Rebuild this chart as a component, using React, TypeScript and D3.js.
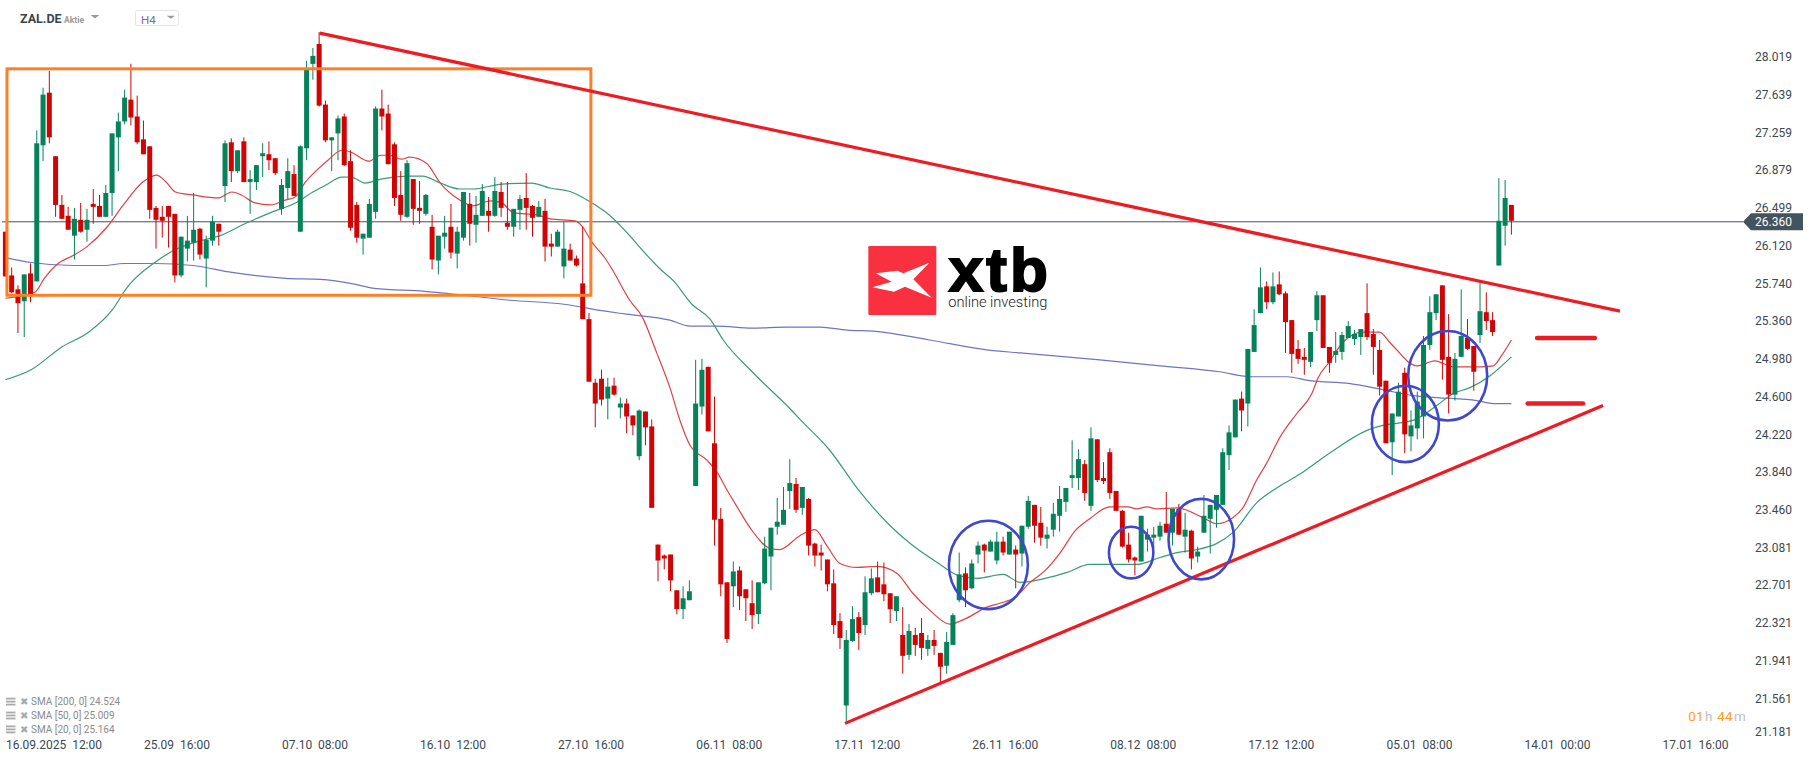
import React, { useEffect, useRef } from 'react';
import * as d3 from 'd3';

// H4 candles
const opens = [
  26.26,25.82,25.68,25.56,25.84,25.76,27.13,27.66,27.02,26.53,
  26.42,26.22,26.38,26.28,26.54,26.52,26.41,26.65,27.21,27.37,
  27.59,27.42,27.19,27.12,26.50,26.41,26.52,26.44,25.82,26.09,
  26.15,26.29,25.99,26.17,26.34,26.72,27.16,26.87,27.17,26.76,
  26.76,27.02,27.04,27.00,26.49,26.70,26.84,26.26,27.10,27.95,
  28.15,27.54,27.18,27.25,27.42,26.97,26.53,26.19,26.20,26.46,
  27.50,27.45,27.14,26.63,26.41,26.79,26.50,26.44,26.31,25.97,
  26.21,26.31,26.04,26.20,26.54,26.33,26.42,26.47,26.42,26.66,
  26.35,26.31,26.48,26.60,26.52,26.41,26.47,26.14,26.11,25.91,
  26.08,25.99,25.74,25.38,24.74,24.78,24.58,24.71,24.49,24.53,
  24.41,24.00,24.45,24.30,23.11,23.00,23.01,22.65,22.46,22.55,
  23.70,24.50,24.90,24.13,23.37,22.73,22.69,22.85,22.66,22.52,
  22.41,22.72,22.99,23.29,23.31,23.65,23.72,23.48,23.57,23.12,
  23.03,22.96,22.72,22.34,21.49,22.14,22.38,22.30,22.62,22.78,
  22.71,22.62,22.44,22.20,22.00,22.20,22.22,22.06,22.15,22.02,
  21.89,22.10,22.55,22.82,22.67,23.01,23.11,23.04,22.95,23.14,
  23.01,23.06,23.02,23.29,23.51,23.33,23.17,23.26,23.40,23.54,
  23.78,23.78,23.92,23.50,24.17,23.78,24.04,23.65,23.45,23.11,
  22.98,22.94,23.16,23.18,23.19,23.32,23.23,23.47,23.19,23.25,
  22.99,23.23,23.37,23.46,23.51,24.01,24.19,24.58,24.53,25.05,
  25.44,25.71,25.55,25.73,25.64,25.37,25.08,25.00,24.95,25.37,
  25.62,25.10,25.02,25.05,25.19,25.18,25.20,25.44,25.23,25.07,
  24.76,24.14,24.40,24.84,24.20,24.28,24.40,25.12,25.44,25.72,
  25.00,24.62,25.00,25.19,25.11,25.22,25.45,25.37,25.92,26.32,26.53,
];
const closes = [
  25.81,25.65,25.54,25.83,25.62,27.15,27.64,27.21,26.53,26.39,
  26.28,26.39,26.26,26.38,26.51,26.41,26.65,27.25,27.37,27.61,
  27.41,27.16,27.04,26.48,26.38,26.37,26.41,25.82,26.21,26.17,
  26.28,26.03,26.18,26.36,26.26,27.15,26.87,27.08,26.76,26.79,
  26.93,27.05,26.98,26.85,26.73,26.87,26.62,27.12,27.89,28.03,
  27.53,27.18,27.21,27.40,26.93,26.30,26.20,26.24,26.54,27.50,
  27.42,26.94,26.60,26.43,26.95,26.49,26.47,26.63,25.98,26.22,
  26.25,26.05,26.26,26.66,26.34,26.43,26.67,26.42,26.67,26.50,
  26.31,26.49,26.59,26.50,26.40,26.51,26.11,26.11,26.26,26.09,
  25.97,25.92,25.38,24.75,24.53,24.57,24.70,24.62,24.53,24.40,
  24.31,24.46,24.29,23.48,22.95,22.97,22.75,22.46,22.57,22.64,
  24.53,24.87,24.25,23.36,22.71,22.16,22.84,22.59,22.57,22.40,
  22.73,23.07,23.28,23.34,23.46,23.73,23.46,23.69,23.10,23.00,
  23.00,22.71,22.30,22.17,22.15,22.36,22.22,22.63,22.77,22.63,
  22.61,22.46,22.59,21.99,22.24,22.10,22.07,22.15,22.09,21.88,
  22.13,22.40,22.81,22.65,22.92,23.10,23.05,23.14,23.14,23.03,
  23.24,23.01,23.30,23.55,23.30,23.18,23.21,23.42,23.57,23.68,
  23.81,23.97,23.63,24.18,23.76,23.75,23.63,23.45,23.09,22.96,
  22.95,23.40,23.21,23.21,23.30,23.23,23.47,23.21,23.26,22.97,
  23.04,23.40,23.51,23.61,24.04,24.24,24.57,24.46,25.08,25.32,
  25.70,25.55,25.71,25.63,25.35,25.03,24.98,24.97,25.25,25.62,
  25.09,24.94,25.06,25.22,25.31,25.23,25.28,25.20,25.10,24.70,
  24.13,24.43,24.65,24.22,24.31,24.55,25.12,25.45,25.63,24.97,
  24.62,24.98,25.21,25.08,24.85,25.46,25.36,25.25,26.37,26.60,26.37,
];
const highs = [
  26.26,25.90,25.72,25.83,25.94,27.28,27.71,27.88,27.02,26.63,
  26.51,26.50,26.55,26.49,26.69,26.63,26.73,27.25,27.46,27.69,
  27.95,27.63,27.38,27.12,26.52,26.52,26.52,26.44,26.21,26.42,
  26.65,26.30,26.22,26.42,26.34,27.18,27.20,27.08,27.21,26.88,
  26.93,27.15,27.17,27.00,26.79,27.00,26.93,27.13,27.98,28.11,
  28.27,27.58,27.21,27.43,27.45,27.08,26.56,26.24,26.59,27.52,
  27.69,27.54,27.16,26.87,26.98,26.79,26.77,26.64,26.43,26.22,
  26.42,26.54,26.31,26.66,26.65,26.62,26.74,26.61,26.81,26.76,
  26.76,26.49,26.63,26.85,26.53,26.57,26.59,26.24,26.28,26.36,
  26.14,26.02,26.31,25.44,24.78,24.87,24.79,24.79,24.59,24.58,
  24.41,24.47,24.45,24.37,23.11,23.01,23.01,22.65,22.69,22.75,
  24.97,24.98,24.90,24.60,23.48,22.73,22.94,22.89,22.66,22.75,
  22.73,23.19,23.28,23.58,23.69,23.97,23.78,23.69,23.58,23.13,
  23.11,22.96,22.86,22.42,22.25,22.49,22.43,22.79,22.87,22.94,
  22.93,22.62,22.59,22.48,22.31,22.27,22.37,22.20,22.25,22.02,
  22.23,22.42,23.03,22.88,22.96,23.14,23.12,23.16,23.24,23.19,
  23.24,23.10,23.30,23.60,23.51,23.49,23.29,23.53,23.70,23.68,
  24.16,24.07,23.96,24.29,24.17,23.94,24.08,23.65,23.46,23.23,
  22.99,23.40,23.27,23.29,23.34,23.64,23.47,23.52,23.43,23.26,
  23.09,23.61,23.51,23.61,24.08,24.31,24.57,24.65,25.08,25.48,
  25.90,25.76,25.85,25.86,25.66,25.37,25.17,25.09,25.25,25.66,
  25.62,25.10,25.25,25.25,25.36,25.27,25.28,25.74,25.28,25.17,
  24.76,24.43,24.74,24.89,24.46,24.65,25.21,25.61,25.63,25.72,
  25.43,25.04,25.68,25.38,25.11,25.76,25.65,25.45,26.80,26.78,26.53,
];
const lows = [
  25.81,25.64,25.24,25.20,25.55,25.76,26.97,27.15,26.41,26.39,
  26.28,25.98,26.25,26.16,26.34,26.41,26.41,26.42,26.87,27.34,
  27.33,27.14,27.04,26.39,26.09,26.20,26.10,25.75,25.80,25.96,
  25.97,25.98,25.70,26.12,26.12,26.56,26.76,26.85,26.76,26.44,
  26.68,26.81,26.88,26.83,26.43,26.59,26.62,26.26,26.98,27.79,
  27.52,27.16,26.87,26.98,26.92,26.27,26.15,26.03,26.20,26.39,
  27.28,26.94,26.52,26.37,26.40,26.33,26.34,26.42,25.88,25.83,
  26.09,25.99,25.89,26.17,26.12,26.15,26.42,26.26,26.41,26.41,
  26.28,26.21,26.28,26.28,26.21,26.41,25.96,26.01,26.11,25.79,
  25.97,25.91,25.38,24.75,24.29,24.51,24.37,24.61,24.38,24.23,
  24.21,23.96,24.11,23.48,22.74,22.86,22.64,22.41,22.36,22.55,
  23.70,24.42,24.25,23.10,22.59,22.12,22.48,22.45,22.34,22.26,
  22.31,22.71,22.65,23.21,23.31,23.47,23.43,23.41,23.00,22.89,
  22.85,22.64,22.21,22.06,21.33,22.13,22.05,22.20,22.60,22.63,
  22.54,22.32,22.34,21.81,21.95,21.99,21.95,21.99,22.00,21.72,
  21.81,22.10,22.53,22.48,22.66,22.92,22.83,23.04,22.91,23.00,
  23.01,22.67,22.89,23.27,23.13,23.10,23.07,23.19,23.24,23.44,
  23.68,23.66,23.55,23.45,23.74,23.72,23.57,23.45,23.08,22.93,
  22.80,22.94,23.04,23.07,23.15,23.23,23.10,23.21,23.03,22.86,
  22.93,23.23,23.02,23.28,23.51,23.86,24.19,24.25,24.30,25.05,
  25.44,25.48,25.53,25.62,25.04,24.84,24.93,24.82,24.90,25.26,
  25.09,24.84,24.94,24.97,25.19,25.12,25.02,25.17,24.82,24.61,
  24.13,23.81,24.40,24.03,24.05,24.17,24.18,25.07,25.37,24.77,
  24.43,24.56,25.00,25.07,24.66,25.14,25.27,25.21,25.92,26.12,26.23,
];

// moving averages, read at the bars where they bend
const sma20Bars = [0,4.7,6.2,8.4,10.8,13,16.1,18.8,21.9,24.1,25.6,27.1,29.9,33.9,36.1,37.6,39.8,42.2,44.7,46.2,47.8,49.3,51.4,53.6,55.1,57.9,59.8,61.3,63.1,64.4,67.1,69.3,72.4,74.5,77.3,79.1,81,84.7,86.8,90.8,92.1,93.3,95.6,96.8,99.5,101.5,103.8,105.9,107.5,109.1,111.8,113.4,115,116.6,119,121.9,123.4,126.6,129,130.9,133,135.7,138.9,142.1,144.6,147.3,150.5,153.2,156.4,158.5,160.9,163.3,165.7,168,170.5,172.8,176,178.9,180.3,181.9,183.5,186.7,190.9,193,195.6,197.2,199.4,201,203.1,205.8,208.2,209.2,211,213.2,216.3,219,220.7,225,227.8,230.7,235,237.1,238.5,240];
const sma20 = [25.59,25.65,25.79,25.94,26.02,26.11,26.30,26.53,26.76,26.83,26.76,26.66,26.63,26.60,26.66,26.63,26.55,26.53,26.58,26.61,26.76,26.86,26.98,27.08,27.06,26.97,27.03,27.03,26.99,27.01,26.95,26.75,26.58,26.52,26.57,26.55,26.45,26.43,26.39,26.37,26.30,26.17,25.99,25.87,25.57,25.40,25.04,24.69,24.36,24.11,23.96,23.84,23.66,23.49,23.25,23.07,23.06,23.20,23.26,23.10,22.92,22.88,22.89,22.82,22.62,22.45,22.31,22.37,22.48,22.52,22.58,22.73,22.85,23.02,23.25,23.37,23.49,23.49,23.47,23.49,23.47,23.48,23.38,23.32,23.38,23.48,23.76,23.93,24.19,24.43,24.63,24.79,24.95,25.15,25.25,25.25,25.14,24.91,24.96,24.90,24.90,24.91,25.02,25.17];
const sma50Bars = [0,4.1,9,13.3,17,19.4,23.8,26.8,31.1,34.2,38.5,42.2,46.5,49,51.1,53.6,55.1,57.3,59.8,64.4,66.5,69.3,72.4,74.5,79.1,83.8,86.8,90.2,92.7,95.6,104.6,106.4,109.4,112.3,114.4,119,125,127.1,131.1,136.2,141,144.6,148.5,151.8,154.8,159,161.7,165.7,169.2,172.8,180.3,184,186.7,189.9,193,195.6,199.4,203.1,206.3,211,217,219.5,224.3,228.1,230.7,233.4,236.6,240];
const sma50 = [24.77,24.87,25.10,25.25,25.47,25.70,25.95,26.07,26.17,26.22,26.35,26.45,26.56,26.66,26.73,26.81,26.81,26.75,26.79,26.82,26.82,26.75,26.69,26.69,26.74,26.75,26.70,26.66,26.58,26.46,25.87,25.77,25.53,25.38,25.17,24.85,24.48,24.34,24.08,23.64,23.30,23.10,22.93,22.80,22.77,22.81,22.73,22.77,22.83,22.91,22.91,22.98,23.03,23.06,23.12,23.23,23.53,23.70,23.82,24.03,24.26,24.31,24.36,24.51,24.63,24.69,24.81,25.00];
const sma200Bars = [0,4.1,10.8,15.8,18.8,23.8,29.9,36.1,44.7,50.2,55.8,58.8,66.8,71.8,80.4,89,95.6,99,105.9,109.1,113.4,119,124.6,129.8,134.1,138.3,147.3,156.4,161.7,174.4,184,193.5,198.3,204.2,207.9,214.3,219.5,224.3,228.1,234.5,237.1,240];
const sma200 = [26.00,25.95,25.92,25.92,25.94,25.94,25.92,25.85,25.79,25.78,25.73,25.69,25.66,25.63,25.57,25.53,25.46,25.43,25.37,25.31,25.31,25.29,25.30,25.30,25.27,25.26,25.17,25.07,25.04,24.97,24.91,24.85,24.80,24.80,24.76,24.73,24.67,24.61,24.59,24.56,24.53,24.53];

// axes
const priceTicks = [28.019,27.639,27.259,26.879,26.499,26.12,25.74,25.36,24.98,24.6,24.22,23.84,23.46,23.081,22.701,22.321,21.941,21.561,21.181];
const timeBars = [0,22,44,66,88,110,132,154,176,198,220,242,264];
const timeLabels = ['16.09.2025  12:00','25.09  16:00','07.10  08:00','16.10  12:00','27.10  16:00','06.11  08:00','17.11  12:00','26.11  16:00','08.12  08:00','17.12  12:00','05.01  08:00','14.01  00:00','17.01  16:00'];
const lastPrice = 26.36;

// drawings on the chart, as [bar, price, bar, price]
const trendLines = [[50.1,28.26,257.3,25.46],[133.8,21.31,254.6,24.51]];
const levelLines = [[244.1,25.19,253.3,25.19],[242.6,24.53,251.4,24.53]];
const rangeBox = [0.25,27.9,93.3,25.62];
// circles as [left bar, top price, right bar, bottom price]
const circles = [
  [150.2,23.36,163.1,22.45],
  [175.7,23.3,183.1,22.76],
  [185.2,23.58,195.96,22.75],
  [217.6,24.72,228.6,23.93],
  [223.4,25.27,236.3,24.35],
];
const legendRows = ['SMA [200, 0] 24.524','SMA [50, 0] 25.009','SMA [20, 0] 25.164'];

const GREEN = '#06825a';
const RED = '#d00404';
const INK = '#3c4850';
const FONT = 'Roboto, sans-serif';

export default function App() {
  const svgRef = useRef<SVGSVGElement>(null);

  useEffect(() => {
    if (!svgRef.current) return;
    const svg = d3.select(svgRef.current);
    svg.selectAll('*').remove();

    const x = d3.scaleLinear().domain([0, 240]).range([5.4, 1511.4]);
    const y = d3.scaleLinear().domain([21.181, 28.019]).range([736.2, 57]);

    // last price line + tag
    svg.append('line')
      .attr('x1', 2).attr('x2', 1743)
      .attr('y1', y(lastPrice)).attr('y2', y(lastPrice))
      .attr('stroke', '#44525c').attr('stroke-width', 1);

    // moving averages
    const drawSma = (bars: number[], vals: number[], color: string) => {
      const line = d3.line<number>()
        .x((_, i) => x(bars[i]))
        .y(d => y(d))
        .curve(d3.curveMonotoneX);
      svg.append('path')
        .attr('d', line(vals))
        .attr('fill', 'none')
        .attr('stroke', color)
        .attr('stroke-width', 1.2);
    };
    drawSma(sma200Bars, sma200, '#6c76c4');
    drawSma(sma50Bars, sma50, '#3b9a78');
    drawSma(sma20Bars, sma20, '#dd4245');

    // candles
    const candles = svg.append('g');
    opens.forEach((o, i) => {
      const c = closes[i];
      const color = c >= o ? GREEN : RED;
      const cx = x(i);
      candles.append('line')
        .attr('x1', cx).attr('x2', cx)
        .attr('y1', y(highs[i])).attr('y2', y(lows[i]))
        .attr('stroke', color).attr('stroke-width', 1);
      candles.append('rect')
        .attr('x', cx - 2.5).attr('width', 5)
        .attr('y', y(Math.max(o, c)))
        .attr('height', Math.max(1, Math.abs(y(o) - y(c))))
        .attr('fill', color);
    });

    // orange range
    svg.append('rect')
      .attr('x', x(rangeBox[0])).attr('y', y(rangeBox[1]))
      .attr('width', x(rangeBox[2]) - x(rangeBox[0]))
      .attr('height', y(rangeBox[3]) - y(rangeBox[1]))
      .attr('fill', 'none').attr('stroke', '#ff7f27').attr('stroke-width', 3);

    // trend lines
    trendLines.forEach(t => {
      svg.append('line')
        .attr('x1', x(t[0])).attr('y1', y(t[1]))
        .attr('x2', x(t[2])).attr('y2', y(t[3]))
        .attr('stroke', '#ed1c24').attr('stroke-width', 3.2);
    });
    levelLines.forEach(t => {
      svg.append('line')
        .attr('x1', x(t[0])).attr('y1', y(t[1]))
        .attr('x2', x(t[2])).attr('y2', y(t[3]))
        .attr('stroke', '#ed1c24').attr('stroke-width', 4.6)
        .attr('stroke-linecap', 'round');
    });

    // blue circles
    circles.forEach(c => {
      svg.append('ellipse')
        .attr('cx', (x(c[0]) + x(c[2])) / 2)
        .attr('cy', (y(c[1]) + y(c[3])) / 2)
        .attr('rx', (x(c[2]) - x(c[0])) / 2 - 1)
        .attr('ry', (y(c[3]) - y(c[1])) / 2 - 1)
        .attr('fill', 'none').attr('stroke', '#3f48cc').attr('stroke-width', 2.6);
    });

    // price axis
    const yAxis = svg.append('g')
      .attr('transform', 'translate(1755,0)')
      .call(d3.axisRight(y).tickValues(priceTicks).tickFormat(d3.format('.3f') as any).tickSize(0).tickPadding(0));
    yAxis.select('.domain').remove();
    yAxis.selectAll<SVGGElement, number>('.tick')
      .attr('transform', d => `translate(0,${Math.min(y(d), 731.7)})`);
    yAxis.selectAll('text')
      .attr('x', 0).attr('dy', '0.35em')
      .attr('font-family', FONT).attr('font-size', 12).attr('fill', INK);

    const tag = svg.append('g');
    const ty = y(lastPrice);
    tag.append('path')
      .attr('d', `M1743,${ty} L1751,${ty - 8.5} L1803,${ty - 8.5} L1803,${ty + 8.5} L1751,${ty + 8.5} Z`)
      .attr('fill', '#44545f');
    tag.append('text')
      .attr('x', 1755).attr('y', ty).attr('dy', '0.35em')
      .attr('font-family', FONT).attr('font-size', 12).attr('fill', '#fff')
      .text(d3.format('.3f')(lastPrice));

    // time axis
    const xAxis = svg.append('g')
      .attr('transform', 'translate(0,745)')
      .call(d3.axisBottom(x).tickValues(timeBars).tickFormat((_, i) => timeLabels[i]).tickSize(0).tickPadding(0));
    xAxis.select('.domain').remove();
    xAxis.selectAll('text')
      .attr('y', 0).attr('dy', '0.35em')
      .attr('text-anchor', 'start')
      .attr('xml:space', 'preserve')
      .style('white-space', 'pre')
      .attr('font-family', FONT).attr('font-size', 12).attr('fill', INK);

    // indicator legend
    legendRows.forEach((row, i) => {
      const ly = 701.7 + i * 13.9;
      const g = svg.append('g').attr('transform', `translate(0,${ly})`);
      [-4, -1, 2].forEach(d => {
        g.append('rect').attr('x', 6).attr('y', d).attr('width', 9.5).attr('height', 1.8).attr('fill', '#aaa');
      });
      g.append('text')
        .attr('x', 20).attr('y', 0).attr('dy', '0.35em')
        .attr('font-family', 'DejaVu Sans, sans-serif').attr('font-size', 10).attr('font-weight', 700)
        .attr('fill', '#aaa').text('✖');
      g.append('text')
        .attr('x', 31).attr('y', 0).attr('dy', '0.35em')
        .attr('font-family', FONT).attr('font-size', 10).attr('fill', '#8a8a8a')
        .text(row);
    });

    // countdown
    const cd = svg.append('text').attr('y', 721).attr('font-family', FONT).attr('font-size', 13.5);
    cd.append('tspan').attr('x', 1688.3).attr('fill', '#ff9a1f').text('01');
    cd.append('tspan').attr('x', 1705).attr('fill', '#c0c0c0').text('h');
    cd.append('tspan').attr('x', 1717.3).attr('fill', '#ff9a1f').text('44');
    cd.append('tspan').attr('x', 1734).attr('fill', '#c0c0c0').text('m');

    // header
    svg.append('text').attr('x', 20).attr('y', 23.2)
      .attr('font-family', FONT).attr('font-weight', 700).attr('font-size', 12.5)
      .attr('fill', '#36454f').text('ZAL.DE');
    svg.append('text').attr('x', 64).attr('y', 22.5)
      .attr('font-family', FONT).attr('font-weight', 700).attr('font-size', 8.5)
      .attr('fill', '#9a9a9a').text('Aktie');
    svg.append('path').attr('d', 'M90.7,15 L99.3,15 L95,18.5 Z').attr('fill', '#999');
    svg.append('rect').attr('x', 135.5).attr('y', 10.5).attr('width', 43).attr('height', 15).attr('rx', 2)
      .attr('fill', '#fff').attr('stroke', '#e4e4e4');
    svg.append('text').attr('x', 141).attr('y', 24)
      .attr('font-family', FONT).attr('font-size', 11.5).attr('fill', '#777').text('H4');
    svg.append('path').attr('d', 'M166.7,15.7 L175,15.7 L170.8,18.7 Z').attr('fill', '#999');

    // logo
    const logo = svg.append('g').attr('transform', 'translate(840,230) scale(0.3333)');
    logo.append('rect').attr('x', 85).attr('y', 48).attr('width', 204).attr('height', 207).attr('rx', 4).attr('fill', '#f9303f');
    logo.append('polygon')
      .attr('points', '107,130 172,122 190,130 268,98 220,148 275,203 195,170 162,185 97,172 155,155')
      .attr('fill', '#fff');
    logo.append('text').attr('x', 326).attr('y', 183)
      .attr('font-family', '"Liberation Sans", sans-serif').attr('font-weight', 700).attr('font-size', 186)
      .attr('textLength', 298).attr('lengthAdjust', 'spacing')
      .attr('stroke', '#000').attr('stroke-width', 6).attr('fill', '#000').text('xtb');
    logo.append('text').attr('x', 325).attr('y', 232)
      .attr('font-family', 'Roboto, sans-serif').attr('font-weight', 300).attr('font-size', 44)
      .attr('textLength', 297).attr('fill', '#222').text('online investing');
  }, []);

  return (
    <svg
      ref={svgRef}
      width={1815}
      height={761}
      style={{ position: 'absolute', left: 0, top: 0, display: 'block', background: '#fff' }}
    />
  );
}
